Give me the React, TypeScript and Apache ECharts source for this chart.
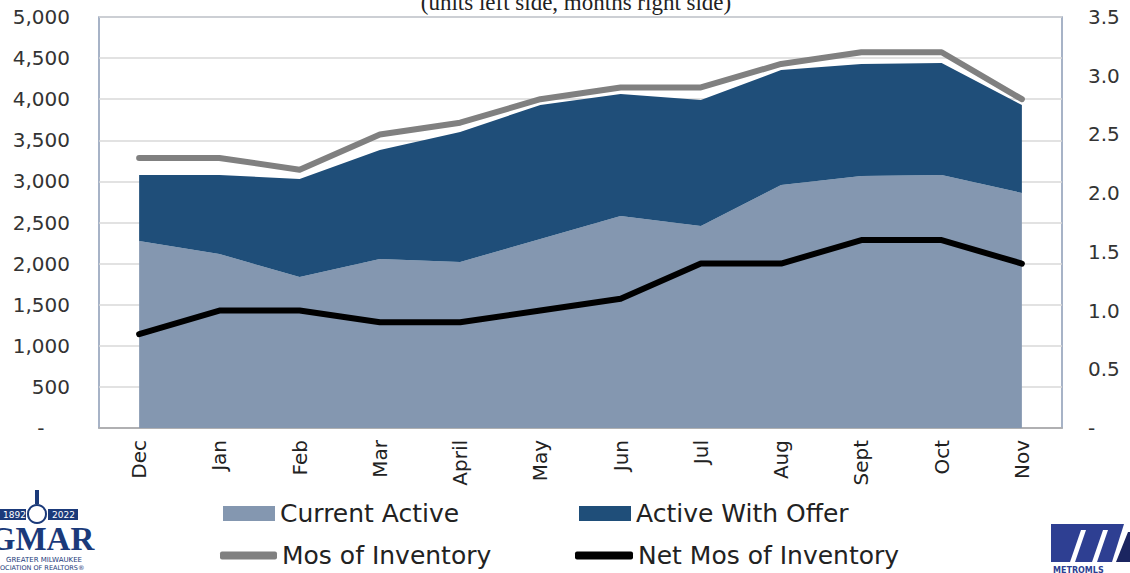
import React, { useEffect, useRef } from "react";
import * as echarts from "echarts";

const months = ["Dec", "Jan", "Feb", "Mar", "April", "May", "Jun", "Jul", "Aug", "Sept", "Oct", "Nov"];
const currentActive = [2275, 2117, 1837, 2056, 2019, 2300, 2579, 2457, 2956, 3066, 3078, 2859];
const activeWithOffer = [803, 961, 1192, 1326, 1582, 1630, 1484, 1533, 1399, 1362, 1362, 1070];
const mosOfInventory = [2.3, 2.3, 2.2, 2.5, 2.6, 2.8, 2.9, 2.9, 3.1, 3.2, 3.2, 2.8];
const netMosOfInventory = [0.8, 1.0, 1.0, 0.9, 0.9, 1.0, 1.1, 1.4, 1.4, 1.6, 1.6, 1.4];
const leftTicks = { min: 0, max: 5000, interval: 500 };
const rightTicks = { min: 0, max: 3.5, interval: 0.5 };

const FONT = "'DejaVu Sans', sans-serif";

export default function App() {
  const ref = useRef<HTMLDivElement>(null);
  useEffect(() => {
    if (!ref.current) return;
    const chart = echarts.init(ref.current, undefined, { renderer: "svg" });
    const legendText = { fontSize: 25, color: "#222", fontFamily: FONT };
    const option: any = {
      animation: false,
      backgroundColor: "#fff",
      grid: {
        left: 99, right: 68, top: 17, bottom: 145,
        show: true, borderColor: "#8a9bb5", borderWidth: 1.5, backgroundColor: "transparent",
      },
      xAxis: {
        type: "category",
        data: months,
        boundaryGap: true,
        axisLine: { show: true, lineStyle: { color: "#a6a6a6", width: 1.5 } },
        axisTick: { show: false },
        axisLabel: { rotate: 90, fontSize: 20, color: "#222", margin: 12, fontFamily: FONT },
      },
      yAxis: [
        {
          type: "value", ...leftTicks,
          axisLine: { show: false }, axisTick: { show: false },
          splitLine: { show: true, lineStyle: { color: "#d9d9d9", width: 1.5 } },
          axisLabel: {
            fontSize: 20, color: "#333", margin: 29, fontFamily: FONT,
            formatter: (v: number) => (v === 0 ? "-    " : v.toLocaleString("en-US")),
          },
        },
        {
          type: "value", ...rightTicks,
          axisLine: { show: false }, axisTick: { show: false },
          splitLine: { show: false },
          axisLabel: {
            fontSize: 20, color: "#333", margin: 26, fontFamily: FONT,
            formatter: (v: number) => (v === 0 ? "-" : v.toFixed(1)),
          },
        },
      ],
      legend: [
        { data: ["Current Active"], left: 223, top: 501, padding: 0, icon: "rect", itemWidth: 52, itemHeight: 15, itemGap: 0, textStyle: legendText },
        { data: ["Active With Offer"], left: 579, top: 501, padding: 0, icon: "rect", itemWidth: 52, itemHeight: 15, itemGap: 0, textStyle: legendText },
        { data: ["Mos of Inventory"], left: 220, top: 543, padding: 0, icon: "roundRect", itemWidth: 57, itemHeight: 8, itemGap: 0, textStyle: legendText },
        { data: ["Net Mos of Inventory"], left: 575, top: 543, padding: 0, icon: "roundRect", itemWidth: 58, itemHeight: 8, itemGap: 0, textStyle: legendText },
      ],
      series: [
        {
          name: "Current Active", type: "line", stack: "units", data: currentActive,
          symbol: "none", lineStyle: { width: 0 }, itemStyle: { color: "#8497b0" },
          areaStyle: { color: "#8497b0", opacity: 1 },
        },
        {
          name: "Active With Offer", type: "line", stack: "units", data: activeWithOffer,
          symbol: "none", lineStyle: { width: 0 }, itemStyle: { color: "#1f4e79" },
          areaStyle: { color: "#1f4e79", opacity: 1 },
        },
        {
          name: "Mos of Inventory", type: "line", yAxisIndex: 1, data: mosOfInventory,
          symbol: "none", itemStyle: { color: "#808080" },
          lineStyle: { color: "#808080", width: 6, cap: "round", join: "round" },
        },
        {
          name: "Net Mos of Inventory", type: "line", yAxisIndex: 1, data: netMosOfInventory,
          symbol: "none", itemStyle: { color: "#000" },
          lineStyle: { color: "#000", width: 6, cap: "round", join: "round" },
        },
      ],
      graphic: [
        {
          type: "text", x: 576, y: 2,
          style: {
            text: "(units left side, months right side)", fontSize: 23,
            fontFamily: "'Liberation Serif', serif", fill: "#222",
            align: "center", verticalAlign: "middle",
          },
        },
        // left logo (GMAR)
        { type: "rect", shape: { x: 0, y: 509, width: 26, height: 11 }, style: { fill: "#1b3a7a" } },
        { type: "rect", shape: { x: 48, y: 509, width: 30, height: 11 }, style: { fill: "#1b3a7a" } },
        { type: "text", x: 3, y: 514.5, style: { text: "1892", fontSize: 9, fill: "#fff", fontFamily: FONT, verticalAlign: "middle" } },
        { type: "text", x: 52, y: 514.5, style: { text: "2022", fontSize: 9, fill: "#fff", fontFamily: FONT, verticalAlign: "middle" } },
        { type: "rect", shape: { x: 35, y: 490, width: 4, height: 14 }, style: { fill: "#1b3a7a" } },
        { type: "circle", shape: { cx: 37, cy: 514, r: 9 }, style: { fill: "#fff", stroke: "#1b3a7a", lineWidth: 2 } },
        { type: "text", x: 42, y: 539, style: { text: "GMAR", fontSize: 33, fontWeight: "bold", fill: "#1b3a7a", fontFamily: "'Liberation Serif', serif", align: "center", verticalAlign: "middle" } },
        { type: "text", x: 6, y: 560, style: { text: "GREATER MILWAUKEE", fontSize: 7, fill: "#1b3a7a", fontFamily: FONT, verticalAlign: "middle" } },
        { type: "text", x: 0, y: 568, style: { text: "OCIATION OF REALTORS®", fontSize: 6.5, fill: "#1b3a7a", fontFamily: FONT, verticalAlign: "middle" } },
        // right logo (MetroMLS)
        { type: "polygon", shape: { points: [[1051, 524], [1124, 524], [1112, 562], [1051, 562]] }, style: { fill: "#2e3f92" } },
        { type: "polygon", shape: { points: [[1070, 562], [1075, 562], [1086, 530], [1081, 530]] }, style: { fill: "#fff" } },
        { type: "polygon", shape: { points: [[1092, 562], [1097, 562], [1108, 530], [1103, 530]] }, style: { fill: "#fff" } },
        { type: "polygon", shape: { points: [[1116, 562], [1128, 532], [1130, 532], [1130, 562]] }, style: { fill: "#1b2560" } },
        { type: "text", x: 1053, y: 570, style: { text: "METROMLS", fontSize: 8, fontWeight: "bold", fill: "#2e3f92", fontFamily: FONT, verticalAlign: "middle" } },
      ],
    };
    chart.setOption(option);
    return () => chart.dispose();
  }, []);
  return (
    <div
      ref={ref}
      style={{ position: "absolute", left: 0, top: 0, width: 1130, height: 573, background: "#fff" }}
    />
  );
}
